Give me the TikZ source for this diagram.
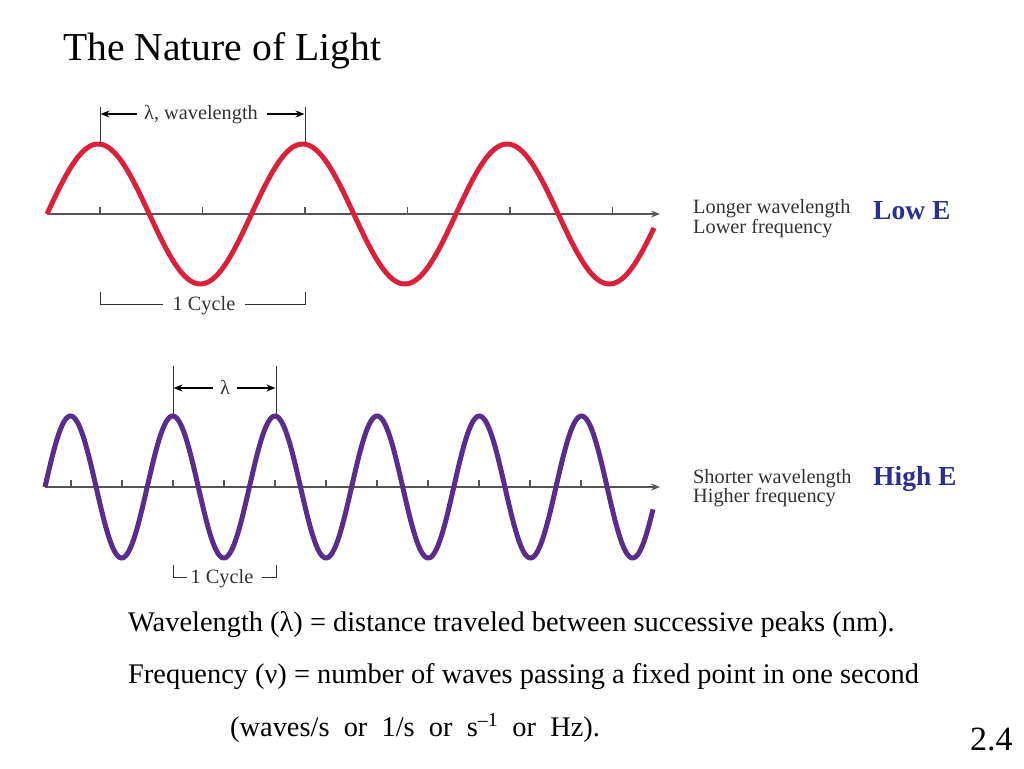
\documentclass[tikz,border=0pt]{standalone}
\usepackage{fontspec}
\setmainfont{Liberation Serif}
\usetikzlibrary{arrows.meta}
\definecolor{wavered}{RGB}{218,32,58}
\definecolor{wavepurple}{RGB}{88,45,140}
\definecolor{axisgray}{RGB}{85,85,85}
\definecolor{labelgray}{RGB}{50,50,50}
\definecolor{energyblue}{RGB}{43,47,143}
\begin{document}
\begin{tikzpicture}[x=1pt,y=-1pt,
  axisline/.style={draw=axisgray,line width=1.5pt,-{Stealth[length=9pt,width=7pt]}},
  tickline/.style={draw=axisgray,line width=1.2pt},
  dimline/.style={draw=labelgray,line width=1pt},
  dimarrow/.style={draw=black,line width=1.5pt,-{Stealth[length=9pt,width=7pt]}},
  redwave/.style={draw=wavered,line width=5pt,line cap=butt},
  purplewave/.style={draw=wavepurple,line width=5pt,line cap=butt},
  figlabel/.style={inner sep=0pt,text=labelgray,font=\fontsize{20.3}{20}\selectfont},
  bodytext/.style={inner sep=0pt,anchor=base west,font=\fontsize{28.4}{32}\selectfont},
  energy/.style={inner sep=0pt,anchor=base west,text=energyblue,font=\fontsize{27.5}{30}\selectfont\bfseries}]
\useasboundingbox (0,0) rectangle (1024,768);

% title
\node[inner sep=0pt,anchor=base west,font=\fontsize{39.6}{44}\selectfont] (title) at (63,60) {The Nature of Light};

% ---------- red wave ----------
\coordinate (raxs) at (47,214);
\coordinate (raxe) at (660,214);
\draw[axisline] (raxs) -- (raxe);
\foreach \t in {100,202.5,305,407.5,510,612.5}
  \draw[tickline] (\t,214) -- (\t,207);
\draw[redwave] plot[domain=47:654,samples=300] (\x,{214-70*sin((\x-47)/204.5*360)});

% wavelength dimension
\coordinate (rl1) at (100,107);
\coordinate (rl2) at (100,143);
\coordinate (rr1) at (305,107);
\coordinate (rr2) at (305,143);
\draw[dimline] (rl1) -- (rl2);
\draw[dimline] (rr1) -- (rr2);
\node[figlabel,anchor=base] (wl) at (201,119) {λ, wavelength};
\coordinate (wla) at (137,114);
\coordinate (wlb) at (100.5,114);
\coordinate (wlc) at (267,114);
\coordinate (wld) at (304.5,114);
\draw[dimarrow] (wla) -- (wlb);
\draw[dimarrow] (wlc) -- (wld);

% 1 cycle bracket (top)
\node[figlabel,anchor=base] (cyc1) at (204,310) {1 Cycle};
\coordinate (c1a) at (100,292);
\coordinate (c1b) at (100,304);
\coordinate (c1c) at (163,304);
\coordinate (c1d) at (245,304);
\coordinate (c1e) at (305,304);
\coordinate (c1f) at (305,292);
\draw[dimline] (c1a) -- (c1b) -- (c1c);
\draw[dimline] (c1d) -- (c1e) -- (c1f);

% labels
\node[figlabel,anchor=base west] (long) at (693,213) {Longer wavelength};
\node[figlabel,anchor=base west] (lowf) at (693,233) {Lower frequency};
\node[energy] (lowE) at (873,219) {Low E};

% ---------- purple wave ----------
\coordinate (paxs) at (45,487);
\coordinate (paxe) at (660,487);
\draw[axisline] (paxs) -- (paxe);
\foreach \t in {71,122,173,224,275,326,377,428,479,530,581}
  \draw[tickline] (\t,487) -- (\t,480);
\draw[purplewave] plot[domain=45:653,samples=400] (\x,{487-71*sin((\x-45)/102.2*360)});

% lambda dimension
\coordinate (pl1) at (173,366);
\coordinate (pl2) at (173,414);
\coordinate (pr1) at (276,366);
\coordinate (pr2) at (276,414);
\draw[dimline] (pl1) -- (pl2);
\draw[dimline] (pr1) -- (pr2);
\node[figlabel,anchor=base] (lam) at (225,394) {λ};
\coordinate (la) at (213,388);
\coordinate (lb) at (173.5,388);
\coordinate (lc) at (237,388);
\coordinate (ld) at (275.5,388);
\draw[dimarrow] (la) -- (lb);
\draw[dimarrow] (lc) -- (ld);

% 1 cycle bracket (bottom)
\node[figlabel,anchor=base] (cyc2) at (222,583) {1 Cycle};
\coordinate (c2a) at (173,565);
\coordinate (c2b) at (173,577);
\coordinate (c2c) at (187,577);
\coordinate (c2d) at (262,577);
\coordinate (c2e) at (276,577);
\coordinate (c2f) at (276,565);
\draw[dimline] (c2a) -- (c2b) -- (c2c);
\draw[dimline] (c2d) -- (c2e) -- (c2f);

% labels
\node[figlabel,anchor=base west] (short) at (693,483) {Shorter wavelength};
\node[figlabel,anchor=base west] (highf) at (693,502) {Higher frequency};
\node[energy] (highE) at (873,485) {High E};

% ---------- body text ----------
\node[bodytext] (def1) at (128,631) {Wavelength (λ) = distance traveled between successive peaks (nm).};
\node[bodytext] (def2) at (128,683) {Frequency (ν) = number of waves passing a fixed point in one second};
\node[bodytext] (def3) at (230,736) {(waves/s~~or~~1/s~~or~~s\textsuperscript{–1}~~or~~Hz).};
\node[inner sep=0pt,anchor=base west,font=\fontsize{34}{36}\selectfont] (pg) at (970,750) {2.4};
\end{tikzpicture}
\end{document}
